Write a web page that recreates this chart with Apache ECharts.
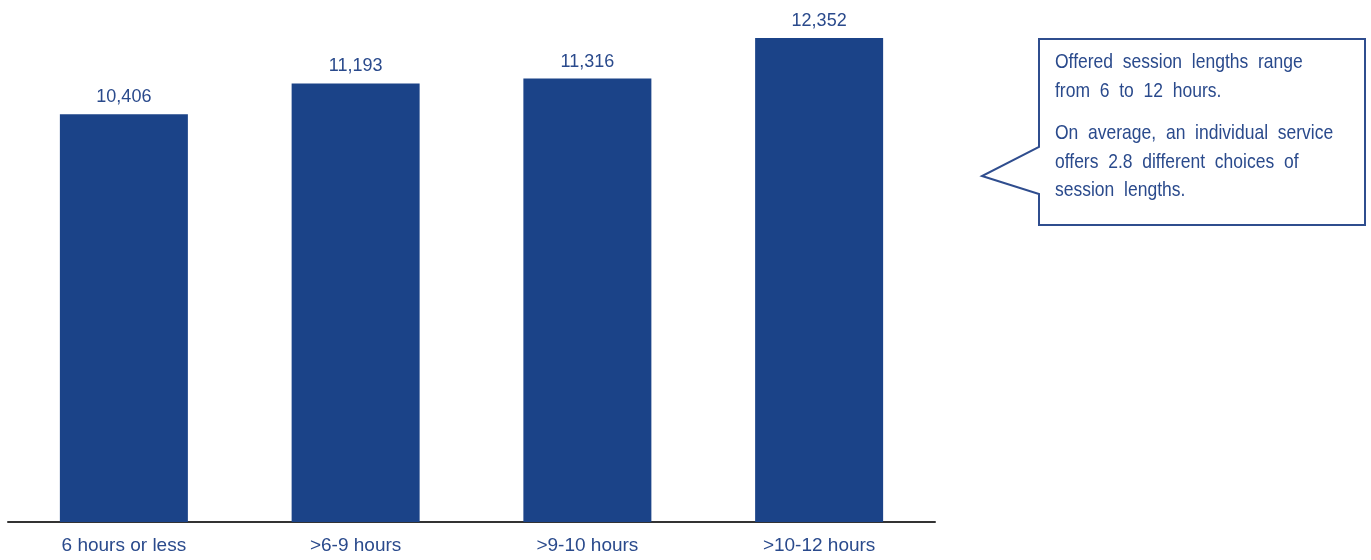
<!DOCTYPE html>
<html>
<head>
<meta charset="utf-8">
<script src="https://cdn.jsdelivr.net/npm/echarts@6/dist/echarts.min.js"></script>
<style>
  html, body { margin: 0; padding: 0; background: #fff; }
  #chart { width: 1371px; height: 560px; }
</style>
</head>
<body>
<div id="chart"></div>
<script>
// session length buckets and number of offerings
const categories = ['6 hours or less', '>6-9 hours', '>9-10 hours', '>10-12 hours'];
const values = [10406, 11193, 11316, 12352];

const noteLines1 = ['Offered session lengths range', 'from 6 to 12 hours.'];
const noteLines2 = ['On average, an individual service', 'offers 2.8 different choices of', 'session lengths.'];

const barColor = '#1b4388';
const textColor = '#2a4a8c';
const font = 'Liberation Sans, Arial, sans-serif';

// the callout in the source has wide word gaps, double the spaces
const widen = lines => lines.map(s => s.replace(/ /g, '  ')).join('\n');

const chart = echarts.init(document.getElementById('chart'));

chart.setOption({
    animation: false,
    grid: { left: 8, right: 436, top: 38, bottom: 38 },
    xAxis: {
        type: 'category',
        data: categories,
        axisLine: { lineStyle: { color: '#333', width: 2 } },
        axisTick: { show: false },
        axisLabel: { color: textColor, fontSize: 19, fontFamily: font, margin: 14 }
    },
    yAxis: {
        type: 'value',
        min: 0,
        max: 12352,
        show: false,
        splitLine: { show: false }
    },
    series: [{
        type: 'bar',
        data: values,
        barWidth: 128,
        itemStyle: { color: barColor },
        label: {
            show: true,
            position: 'top',
            distance: 8,
            color: textColor,
            fontSize: 18,
            fontFamily: font,
            formatter: p => p.value.toLocaleString('en-US')
        }
    }],
    graphic: [
        {
            type: 'polygon',
            shape: {
                points: [[1039, 39], [1365, 39], [1365, 225], [1039, 225], [1039, 194], [982, 176], [1039, 147]]
            },
            style: { fill: '#fff', stroke: '#2f4d8e', lineWidth: 2 }
        },
        {
            type: 'text',
            x: 1055,
            y: 48,
            scaleY: 1.15,
            style: {
                text: widen(noteLines1),
                fill: textColor,
                font: '17.5px ' + font,
                lineHeight: 25,
                verticalAlign: 'top'
            }
        },
        {
            type: 'text',
            x: 1055,
            y: 119,
            scaleY: 1.15,
            style: {
                text: widen(noteLines2),
                fill: textColor,
                font: '17.5px ' + font,
                lineHeight: 25,
                verticalAlign: 'top'
            }
        }
    ]
});
</script>
</body>
</html>
